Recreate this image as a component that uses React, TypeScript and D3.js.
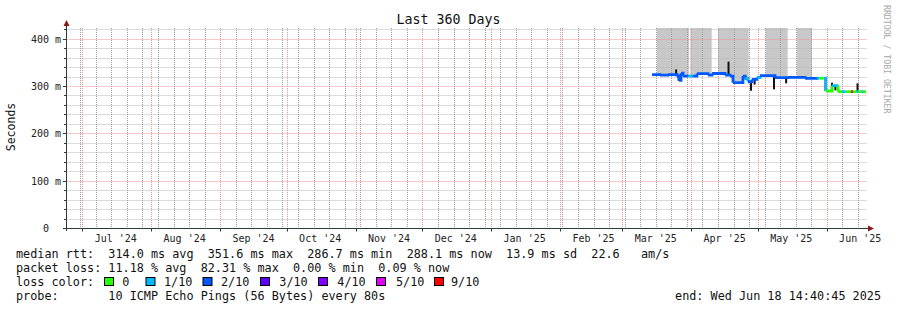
import React, { useEffect } from 'react';
import * as d3 from 'd3';

const W = 897;
const H = 310;

// time window (graph end minus 360 days)
const endTime = new Date(Date.UTC(2025, 5, 18, 14, 40, 45));
const startTime = new Date(endTime.getTime() - 360 * 86400 * 1000);

const yMaxMs = 422.6;
const yMajorValues = [0, 100, 200, 300, 400];
const yMajorLabels = ['0  ', '100 m', '200 m', '300 m', '400 m'];
const yMinorStep = 20;

const lossColors = ['#26ff00', '#00b8ff', '#0059ff', '#5e00ff', '#7e00ff', '#dd00ff', '#ff0000'];
const lossLabels = ['0', '1/10', '2/10', '3/10', '4/10', '5/10', '9/10'];

// median rtt (ms), step series: each value holds until next time
const medianTimes = [
  '2025-03-14T08:00', '2025-03-17T22:00', '2025-03-21T12:00', '2025-03-25T14:00',
  '2025-03-26T12:00', '2025-03-27T09:00', '2025-03-28T06:00', '2025-03-30T12:00',
  '2025-04-01T18:00', '2025-04-03T13:00', '2025-04-08T12:00', '2025-04-10T08:00',
  '2025-04-16T04:00', '2025-04-18T10:00', '2025-04-19T18:00', '2025-04-24T06:00',
  '2025-04-25T04:00', '2025-04-26T12:00', '2025-04-28T07:00', '2025-04-30T13:00',
  '2025-05-01T22:00', '2025-05-08T16:00', '2025-05-14T12:00', '2025-05-22T04:00',
  '2025-05-27T13:00', '2025-05-28T12:00', '2025-05-30T12:00', '2025-05-31T12:00',
  '2025-06-03T08:00', '2025-06-05T14:00', '2025-06-06T00:00', '2025-06-07T20:00',
  '2025-06-09T12:00', '2025-06-11T21:00', '2025-06-12T18:00', '2025-06-14T06:00',
  '2025-06-15T00:00', '2025-06-16T12:00', '2025-06-17T06:00',
];
const medianValues = [
  324, 323, 324, 320,
  312, 327, 321, 321,
  321, 326, 323, 326.5,
  323, 321, 307, 321,
  316, 309, 314, 318,
  321.8, 317.6, 318.4, 316.3,
  316.5, 316.5, 316.5, 289.5,
  301, 298, 288, 288,
  288, 288, 288, 288,
  288, 288, 288,
];
const medianLoss = [
  2, 2, 2, 2,
  2, 2, 2, 1,
  2, 2, 2, 2,
  2, 2, 2, 2,
  1, 2, 2, 1,
  2, 2, 2, 2,
  1, 0, 1, 0,
  1, 0, 0, 1,
  0, 6, 0, 1,
  0, 1, 0,
];

// dark smoke spikes (ms)
const spikeTimes = [
  '2025-03-25T04:00', '2025-03-26T08:00', '2025-04-17T18:00', '2025-04-25T12:00',
  '2025-04-27T21:00', '2025-04-29T12:00', '2025-05-08T05:00', '2025-05-13T16:00',
  '2025-05-31T10:00', '2025-06-03T08:00', '2025-06-04T20:00', '2025-06-14T19:00',
];
const spikeLow = [324, 311, 323, 313, 290, 303, 293, 305.7, 289.5, 288, 291, 288];
const spikeHigh = [335, 324, 351.6, 321, 310, 316, 321, 317.6, 316.5, 307, 302, 305.7];

// grey smoke periods (smoke above top of graph)
const smokeStart = ['2025-03-16T13:40', '2025-03-31T13:20', '2025-04-13T00:30', '2025-05-04T11:40', '2025-05-18T13:40'];
const smokeEnd = ['2025-03-30T23:20', '2025-04-10T04:20', '2025-04-26T20:00', '2025-05-14T09:00', '2025-05-25T07:40'];

const legendRtt = 'median rtt:  314.0 ms avg  351.6 ms max  286.7 ms min  288.1 ms now  13.9 ms sd  22.6   am/s';
const legendLoss = 'packet loss: 11.18 % avg  82.31 % max  0.00 % min  0.09 % now';
const legendLossTitle = 'loss color:';
const legendProbe = 'probe:       10 ICMP Echo Pings (56 Bytes) every 80s';
const legendEnd = 'end: Wed Jun 18 14:40:45 2025';
const titleText = 'Last 360 Days';
const yAxisTitle = 'Seconds';
const watermark = 'RRDTOOL / TOBI OETIKER';

const parse = d3.utcParse('%Y-%m-%dT%H:%M');
const FONT = '"DejaVu Sans Mono", monospace';
const keepSpaces = (s: string) => s.replace(/ /g, '\u00a0');

export default function App() {
  useEffect(() => {
    document.body.style.margin = '0';
  }, []);

  const x = d3.scaleUtc().domain([startTime, endTime]).range([66, 866]);
  const y = d3.scaleLinear().domain([0, yMaxMs]).range([228, 28]);
  const left = 66.5;
  const right = 867;
  const top = 28;
  const bottom = 228;

  const times = medianTimes.map((t) => parse(t) as Date);
  const pts = times.map((t, i) => ({ t, v: medianValues[i], c: medianLoss[i] }));
  const nextT = (i: number) => (i + 1 < pts.length ? pts[i + 1].t : endTime);

  const monthStarts = d3.utcMonth.range(d3.utcMonth.ceil(startTime), endTime);
  const weeks = d3.utcSunday.range(startTime, endTime);
  const monthLabels = d3.utcMonth
    .range(d3.utcMonth.floor(startTime), endTime)
    .map((m) => ({ m, mid: d3.utcDay.offset(m, 15) }))
    .filter((d) => d.mid >= startTime && d.mid <= endTime);
  const fmtMonth = d3.utcFormat("%b '%y");

  const minorY = d3.range(yMinorStep, yMaxMs, yMinorStep).filter((v) => v % 100 !== 0);

  const valueAt = (t: Date) => {
    let v = pts[0].v;
    for (const p of pts) if (p.t <= t) v = p.v;
    return v;
  };
  const smokeArea = d3
    .area<{ t: Date; v: number }>()
    .curve(d3.curveStepAfter)
    .x((d) => x(d.t))
    .y0(top)
    .y1((d) => y(d.v));
  const smokePaths = smokeStart.map((s, i) => {
    const a = parse(s) as Date;
    const b = parse(smokeEnd[i]) as Date;
    const arr = [{ t: a, v: valueAt(a) }];
    pts.forEach((p) => {
      if (p.t > a && p.t < b) arr.push({ t: p.t, v: p.v });
    });
    arr.push({ t: b, v: valueAt(b) });
    return smokeArea(arr) as string;
  });

  const seg = d3
    .line<{ t: Date; v: number }>()
    .curve(d3.curveStepAfter)
    .x((d) => x(d.t))
    .y((d) => y(d.v));

  const legendBoxX = [104.5, 146, 203, 260.5, 318.5, 376.5, 434.5];
  const legendTextX = [122.3, 164, 221, 279.3, 337.3, 396, 451];
  const gridGrey = '#b8b8b8';
  const gridGreyV = '#9e9e9e';
  const gridRed = '#ec9494';
  const axisCol = '#2c3e3a';
  const px = (v: number) => Math.round(v) + 0.5;

  return (
    <svg
      width={W}
      height={H}
      style={{ position: 'absolute', left: 0, top: 0, background: '#fff', fontFamily: FONT }}
    >
      <rect x={0} y={0} width={W} height={H} fill="#ffffff" />

      {/* smoke */}
      {smokePaths.map((p, i) => (
        <path key={'sm' + i} d={p} fill="#c8c8c8" />
      ))}

      {/* minor grid */}
      <g stroke={gridGrey} strokeDasharray="1,1" fill="none">
        {minorY.map((v) => (
          <line key={'hy' + v} x1={left} x2={right} y1={px(y(v))} y2={px(y(v))} />
        ))}
      </g>
      <g stroke={gridGreyV} strokeDasharray="1,1" fill="none">
        {weeks.map((w) => (
          <line key={'wx' + w.getTime()} x1={px(x(w))} x2={px(x(w))} y1={top} y2={bottom} />
        ))}
      </g>
      {/* major grid */}
      <g stroke={gridRed} strokeDasharray="1,1" fill="none">
        {yMajorValues.filter((v) => v > 0).map((v) => (
          <line key={'my' + v} x1={left} x2={right} y1={px(y(v))} y2={px(y(v))} />
        ))}
        {monthStarts.map((m) => (
          <line key={'mx' + m.getTime()} x1={px(x(m))} x2={px(x(m))} y1={top} y2={bottom} />
        ))}
      </g>

      {/* spikes */}
      {spikeTimes.map((s, i) => {
        const t = parse(s) as Date;
        return (
          <line key={'sp' + i} x1={x(t)} x2={x(t)} y1={y(spikeLow[i])} y2={y(spikeHigh[i])}
            stroke="#111" strokeWidth={2} />
        );
      })}

      {/* median line segments coloured by loss */}
      {pts.map((p, i) => {
        const arr = [{ t: p.t, v: p.v }, { t: nextT(i), v: i + 1 < pts.length ? pts[i + 1].v : p.v }];
        return (
          <path key={'md' + i} d={seg(arr) as string} fill="none" stroke={lossColors[p.c]} strokeWidth={2.8} />
        );
      })}

      {/* axes */}
      <line x1={63} x2={870} y1={228.5} y2={228.5} stroke={axisCol} />
      <line x1={66.5} x2={66.5} y1={231} y2={25} stroke={axisCol} />
      {minorY.map((v) => (
        <line key={'ty' + v} x1={64} x2={66} y1={px(y(v))} y2={px(y(v))} stroke={axisCol} />
      ))}
      {yMajorValues.map((v) => (
        <line key={'tY' + v} x1={63} x2={66} y1={px(y(v))} y2={px(y(v))} stroke={axisCol} />
      ))}
      {monthStarts.map((m) => (
        <line key={'tX' + m.getTime()} x1={px(x(m))} x2={px(x(m))} y1={228} y2={231.5} stroke={axisCol} />
      ))}
      <path d="M 66.5 20 L 63.5 26 L 69.5 26 Z" fill="#8b1a1a" />
      <path d="M 874 228.5 L 868 225.5 L 868 231.5 Z" fill="#8b1a1a" />

      {/* y tick labels */}
      {yMajorValues.map((v, i) => (
        <text key={'yl' + v} x={61} y={Math.round(y(v)) + 4} textAnchor="end" fontSize={10} fill="#222">
          {keepSpaces(yMajorLabels[i])}
        </text>
      ))}
      {/* x tick labels */}
      {monthLabels.map((d) => (
        <text key={'xl' + d.m.getTime()} x={x(d.mid)} y={241.5} textAnchor="middle" fontSize={10} fill="#222">
          {keepSpaces(fmtMonth(d.m))}
        </text>
      ))}

      {/* titles */}
      <text x={448.5} y={24} textAnchor="middle" fontSize={13.3} fill="#111">{keepSpaces(titleText)}</text>
      <text transform="translate(15,127) rotate(-90)" textAnchor="middle" fontSize={11.5} fill="#111">{yAxisTitle}</text>
      <text transform="translate(884,5) rotate(90)" fontSize={8.2} fill="#a8a8a8">{keepSpaces(watermark)}</text>

      {/* legend */}
      <g fontSize={11.8} fill="#111">
        <text x={16} y={257.5}>{keepSpaces(legendRtt)}</text>
        <text x={16} y={271.8}>{keepSpaces(legendLoss)}</text>
        <text x={16} y={286}>{keepSpaces(legendLossTitle)}</text>
        {lossColors.map((c, i) => (
          <g key={'lg' + i}>
            <rect x={legendBoxX[i]} y={277.5} width={9} height={8} fill={c} stroke="#000" strokeWidth={1} />
            <text x={legendTextX[i]} y={286}>{lossLabels[i]}</text>
          </g>
        ))}
        <text x={16} y={300.3}>{keepSpaces(legendProbe)}</text>
        <text x={881} y={300.3} textAnchor="end">{keepSpaces(legendEnd)}</text>
      </g>
    </svg>
  );
}
